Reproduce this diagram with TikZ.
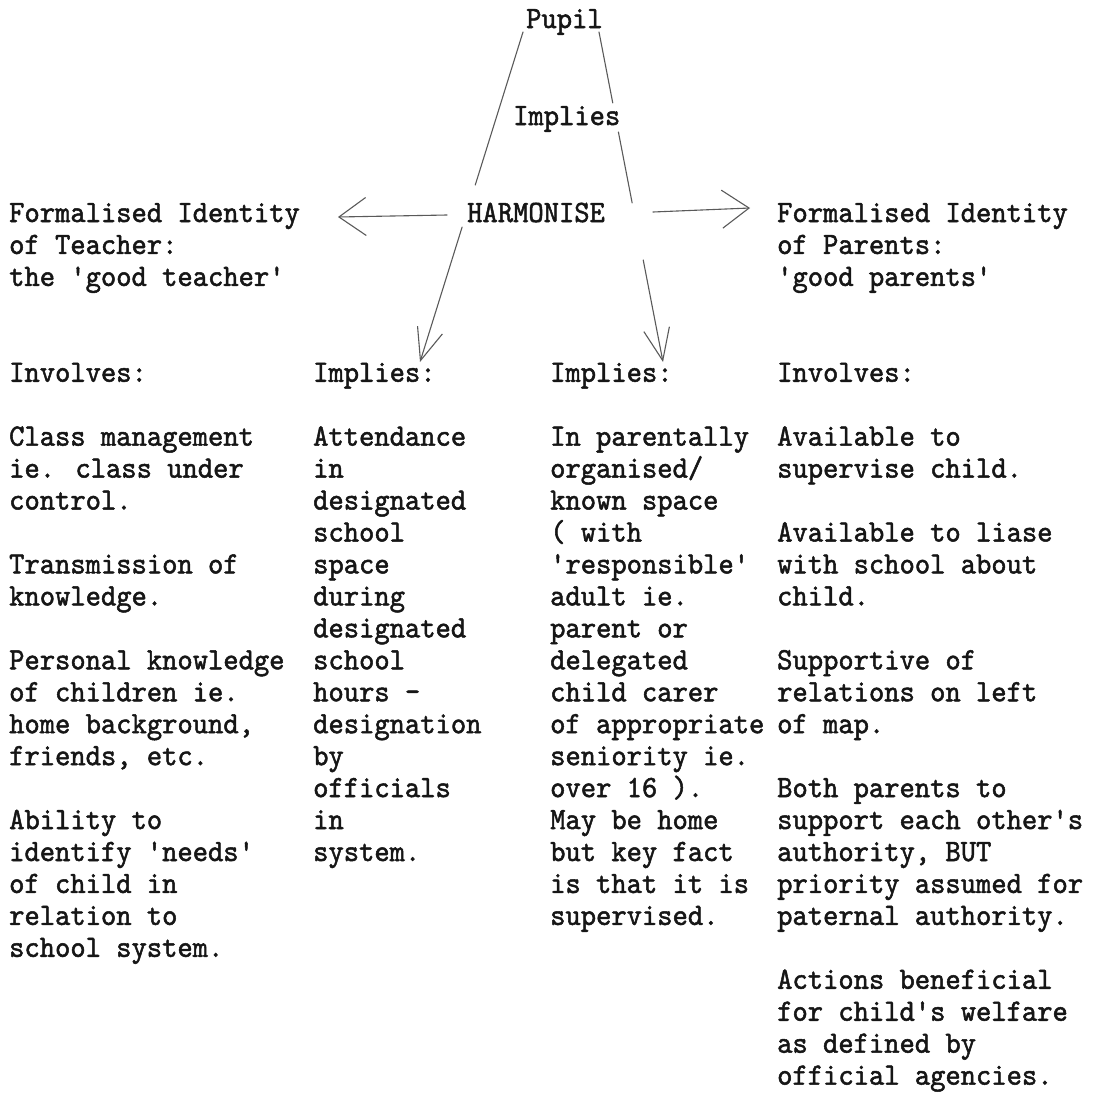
\documentclass[tikz,border=0pt]{standalone}
\usepackage{fontspec}
\newfontfamily\tw{lmmono10-regular}[Extension=.otf, Ligatures=TeXOff, FakeBold=1.6, FakeStretch=0.94]
\usetikzlibrary{arrows.meta,calc}
\newcommand\colrows[1]{\begin{tabular}[t]{@{}l@{}}#1\end{tabular}}
\definecolor{ink}{HTML}{161616}
\definecolor{pen}{HTML}{5A5A5A}
\tikzset{
  txt/.style={inner sep=0pt, anchor=base west, text=ink, font=\tw\fontsize{31pt}{31.95pt}\selectfont},
  ln/.style={draw=pen, line width=1.1pt, line cap=round},
  arrV/.style={ln, -{Straight Barb[length=32pt, width=26pt, line width=1.1pt]}},
  arrH/.style={ln, -{Straight Barb[length=27pt, width=38pt, line width=1.1pt]}}
}
\begin{document}
\begin{tikzpicture}[x=1pt, y=-1pt]
\useasboundingbox (0,0) rectangle (1116,1095);
\fill[white] (0,0) rectangle (1116,1095);

% top labels
\node[txt] (pupil) at (526,28) {Pupil};
\node[txt] (impmid) at (513,125) {Implies};
\node[txt] (harm) at (467,222) {HARMONISE};

% column headers
\node[txt] (teach) at (9,222) {\colrows{Formalised Identity\\of Teacher:\\the 'good teacher'}};
\node[txt] (par) at (777,222) {\colrows{Formalised Identity\\of Parents:\\'good parents'}};

\node[txt] (invL) at (9,381.75) {Involves:};
\node[txt] (impL) at (313,381.75) {Implies:};
\node[txt] (impR) at (550,381.75) {Implies:};
\node[txt] (invR) at (777,381.75) {Involves:};

% column bodies
\node[txt] (body1) at (9,445.65) {\colrows{Class management\\ie. class under\\control.\\ \\Transmission of\\knowledge.\\ \\Personal knowledge\\of children ie.\\home background,\\friends, etc.\\ \\Ability to\\identify 'needs'\\of child in\\relation to\\school system.}};
\node[txt] (body2) at (313,445.65) {\colrows{Attendance\\in\\designated\\school\\space\\during\\designated\\school\\hours -\\designation\\by\\officials\\in\\system.}};
\node[txt] (body3) at (550,445.65) {\colrows{In parentally\\organised/\\known space\\( with\\'responsible'\\adult ie.\\parent or\\delegated\\child carer\\of appropriate\\seniority ie.\\over 16 ).\\May be home\\but key fact\\is that it is\\supervised.}};
\node[txt] (body4) at (777,445.65) {\colrows{Available to\\supervise child.\\ \\Available to liase\\with school about\\child.\\ \\Supportive of\\relations on left\\of map.\\ \\Both parents to\\support each other's\\authority, BUT\\priority assumed for\\paternal authority.\\ \\Actions beneficial\\for child's welfare\\as defined by\\official agencies.}};

% connector ends
\coordinate (La) at (523,32);
\coordinate (Lb) at (420,362);
\coordinate (Ra) at (599,32);
\coordinate (Rb) at (663,362);
\coordinate (Hl0) at (447,215);
\coordinate (Hl1) at (338,217);
\coordinate (Hr0) at (653,212);
\coordinate (Hr1) at (750,208);

% Pupil -> Implies: (left), broken by HARMONISE
\draw[ln] (La) -- ($(La)!0.4636!(Lb)$);
\draw[arrV] ($(La)!0.591!(Lb)$) -- (Lb);
% Pupil -> Implies: (right), broken by Implies and HARMONISE
\draw[ln] (Ra) -- ($(Ra)!0.215!(Rb)$);
\draw[ln] ($(Ra)!0.303!(Rb)$) -- ($(Ra)!0.518!(Rb)$);
\draw[arrV] ($(Ra)!0.691!(Rb)$) -- (Rb);
% HARMONISE -> both identities
\draw[arrH] (Hl0) -- (Hl1);
\draw[arrH] (Hr0) -- (Hr1);
\end{tikzpicture}
\end{document}
